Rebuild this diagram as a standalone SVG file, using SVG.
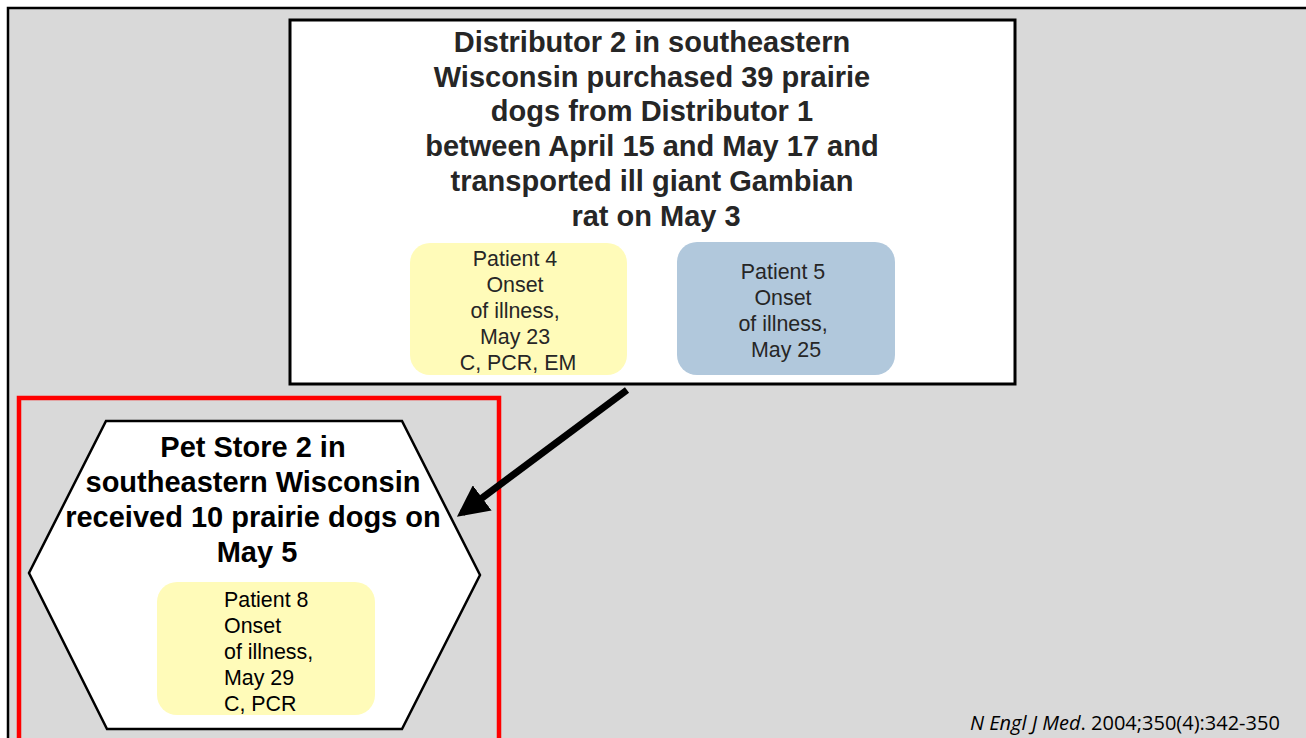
<svg xmlns="http://www.w3.org/2000/svg" width="1306" height="738" viewBox="0 0 1306 738">
<defs>
<style>
.title{font-family:"Liberation Sans",Arial,sans-serif;font-weight:bold;font-size:29px;text-anchor:middle}
.pt{font-family:"Liberation Sans",Arial,sans-serif;font-size:21.4px;fill:#262626}
</style>
<marker id="ah" viewBox="0 0 10 10" refX="8" refY="5" markerWidth="4.5" markerHeight="4.5" orient="auto" markerUnits="strokeWidth">
<path d="M0,0 L10,5 L0,10 Z" fill="#000"/>
</marker>
</defs>
<rect x="0" y="0" width="1306" height="738" fill="#ffffff"/>
<rect x="8" y="8" width="1310" height="740" fill="#d9d9d9" stroke="#000" stroke-width="2.5"/>
<g id="distributor2">
<rect x="290" y="20" width="725" height="364" fill="#fff" stroke="#000" stroke-width="3"/>
<text class="title" fill="#262626">
<tspan x="656" y="52">Distributor 2 in southeastern</tspan>
<tspan x="656" y="87">Wisconsin purchased 39 prairie</tspan>
<tspan x="656" y="121">dogs from Distributor 1</tspan>
<tspan x="656" y="156">between April 15 and May 17 and</tspan>
<tspan x="656" y="191">transported ill giant Gambian</tspan>
<tspan x="656" y="226">rat on May 3</tspan>
</text>
</g>
<g id="patient4">
<rect x="410" y="243" width="217" height="132" rx="20" fill="#fffbb9"/>
<text class="pt" text-anchor="middle">
<tspan x="518" y="266">Patient 4</tspan>
<tspan x="518" y="292">Onset</tspan>
<tspan x="518" y="318">of illness,</tspan>
<tspan x="518" y="344">May 23</tspan>
<tspan x="518" y="370">C, PCR, EM</tspan>
</text>
</g>
<g id="patient5">
<rect x="677" y="242" width="218" height="133" rx="20" fill="#b1c8dc"/>
<text class="pt" text-anchor="middle">
<tspan x="786" y="279">Patient 5</tspan>
<tspan x="786" y="305">Onset</tspan>
<tspan x="786" y="331">of illness,</tspan>
<tspan x="786" y="357">May 25</tspan>
</text>
</g>
<g id="highlight">
<rect x="19" y="398" width="480" height="360" fill="none" stroke="#ff0000" stroke-width="4.5"/>
</g>
<g id="petstore2">
<polygon points="106,421 402,421 480,575 402,729 107,729 29,573" fill="#fff" stroke="#000" stroke-width="2.5"/>
<text class="title" fill="#000">
<tspan x="257" y="457">Pet Store 2 in</tspan>
<tspan x="257" y="492">southeastern Wisconsin</tspan>
<tspan x="257" y="527">received 10 prairie dogs on</tspan>
<tspan x="257" y="562">May 5</tspan>
</text>
</g>
<g id="patient8">
<rect x="157" y="582" width="218" height="133" rx="20" fill="#fffbb9"/>
<text class="pt" style="fill:#000">
<tspan x="224" y="607">Patient 8</tspan>
<tspan x="224" y="633">Onset</tspan>
<tspan x="224" y="659">of illness,</tspan>
<tspan x="224" y="685">May 29</tspan>
<tspan x="224" y="711">C, PCR</tspan>
</text>
</g>
<g id="connectors">
<line x1="627" y1="390" x2="462" y2="513" stroke="#000" stroke-width="7" marker-end="url(#ah)"/>
</g>
<g id="citation">
<text x="970" y="730" font-family="'Open Sans','Liberation Sans',sans-serif" font-size="20" fill="#000"><tspan font-style="italic">N Engl J Med</tspan>. 2004;350(4):342-350</text>
</g>
</svg>
